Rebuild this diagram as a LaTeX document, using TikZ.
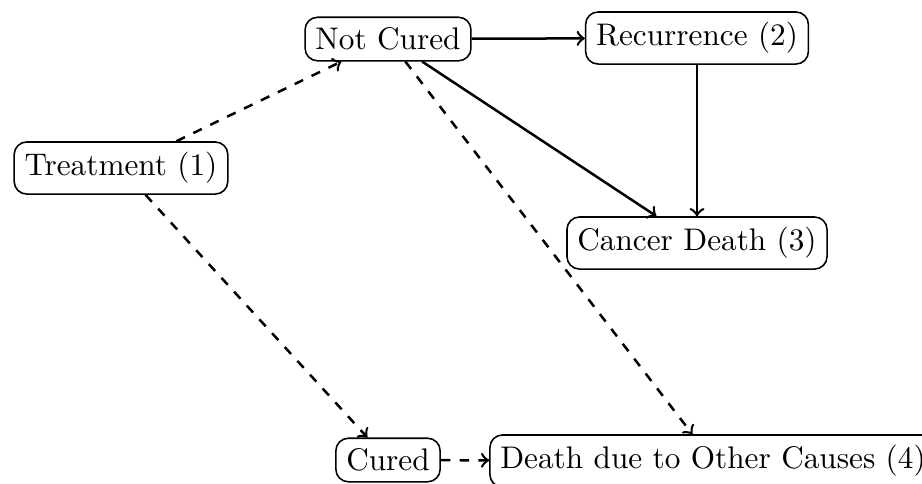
\documentclass[tikz,border=0pt]{standalone}
\usetikzlibrary{arrows}
\begin{document}
\begin{tikzpicture}[x=0.32pt,y=-0.32pt,
  box/.style={draw,rounded corners=4pt,inner sep=3.333pt,line width=0.5pt},
  edge/.style={->,thick},
  dedge/.style={->,thick,dashed}]
\clip (0,0) rectangle (922,483);
\node[box] (T)  at (121,168) {Treatment (1)};
\node[box] (NC) at (388,39)  {Not Cured};
\node[box] (R)  at (697,38)  {Recurrence (2)};
\node[box] (CD) at (697,243) {Cancer Death (3)};
\node[box] (C)  at (388,460) {Cured};
\node[box] (D)  at (713,461) {Death due to Other Causes (4)};
\draw[dedge] (T) -- (NC);
\draw[dedge] (T) -- (C);
\draw[edge] (NC) -- (R);
\draw[edge] (NC) -- (CD);
\draw[edge] (R) -- (CD);
\draw[dedge] (NC) -- (D);
\draw[dedge] (C) -- (D);
\end{tikzpicture}
\end{document}
